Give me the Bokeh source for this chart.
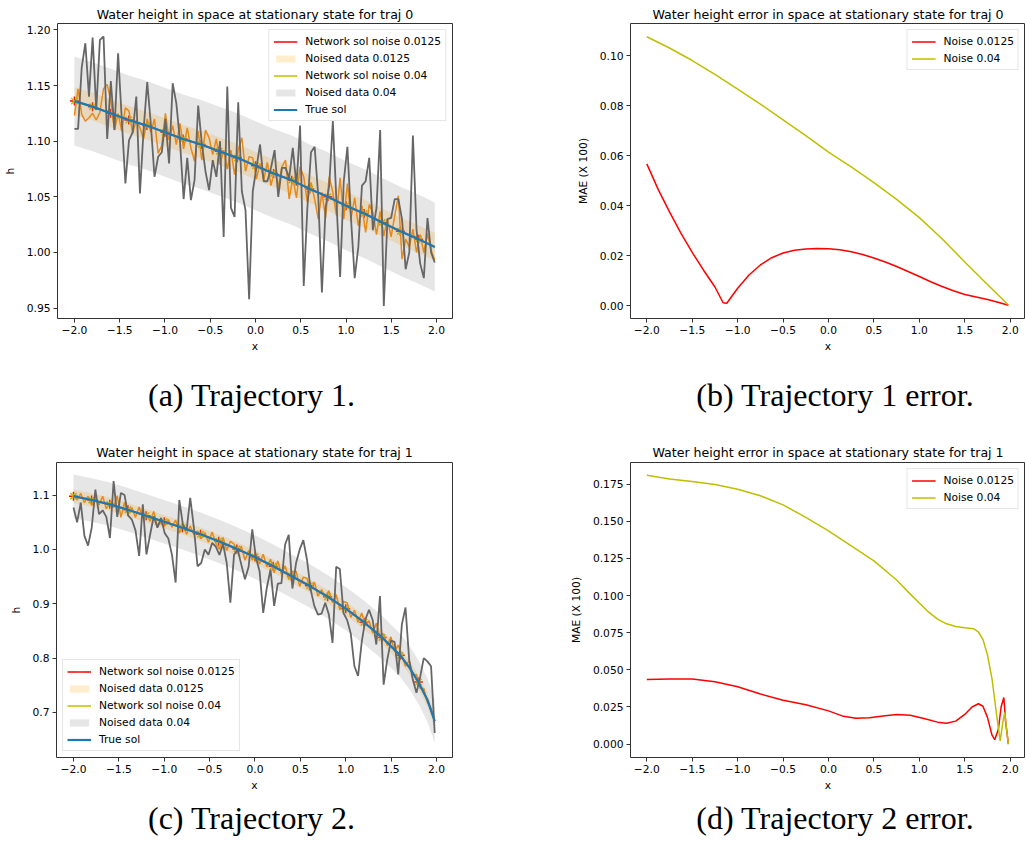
import numpy as np
from bokeh.plotting import figure
from bokeh.models import FixedTicker, Legend, LegendItem, Div, Spacer, Range1d
from bokeh.layouts import row, column
from bokeh.embed import file_html
from bokeh.resources import INLINE

# ---------------- data ----------------
# noisy samples grid (x positions of the noised data)
x_noisy = list(np.linspace(-2.0, 1.98, 100))

# trajectory 0 (panel a)
xt_a = [-2.0, -1.8, -1.6, -1.4, -1.2, -1.0, -0.8, -0.6, -0.4, -0.2, 0.0,
        0.2, 0.4, 0.6, 0.8, 1.0, 1.2, 1.4, 1.6, 1.8, 1.98]
true_a = [1.136, 1.131, 1.125, 1.119, 1.114, 1.108, 1.102, 1.097, 1.091, 1.085, 1.078,
          1.071, 1.065, 1.057, 1.050, 1.042, 1.035, 1.027, 1.019, 1.012, 1.005]
gray_a = [1.111, 1.111, 1.166, 1.188, 1.140, 1.193, 1.128, 1.191, 1.194, 1.102,
          1.154, 1.110, 1.179, 1.120, 1.062, 1.101, 1.108, 1.140, 1.053, 1.110,
          1.153, 1.115, 1.068, 1.086, 1.090, 1.120, 1.080, 1.152, 1.134, 1.100,
          1.048, 1.085, 1.047, 1.065, 1.132, 1.098, 1.073, 1.056, 1.083, 1.068,
          1.100, 1.014, 1.149, 1.040, 1.032, 1.135, 1.055, 1.038, 0.958, 1.055,
          1.076, 1.097, 1.064, 1.064, 1.076, 1.092, 1.050, 1.076, 1.076, 1.067,
          1.094, 1.060, 1.114, 0.970, 1.040, 1.090, 1.095, 1.050, 0.964, 1.040,
          1.060, 1.118, 1.045, 0.978, 1.064, 1.095, 1.030, 0.977, 1.005, 1.060,
          1.064, 1.085, 1.020, 1.040, 1.110, 0.952, 1.030, 1.031, 1.048, 1.048,
          1.030, 0.985, 1.000, 1.105, 1.020, 0.990, 0.977, 1.031, 1.000, 0.991]
orange_a = [1.123, 1.147, 1.124, 1.118, 1.121, 1.125, 1.119, 1.126, 1.147, 1.151,
            1.136, 1.110, 1.125, 1.109, 1.130, 1.127, 1.107, 1.119, 1.112, 1.102,
            1.120, 1.108, 1.120, 1.089, 1.096, 1.125, 1.101, 1.114, 1.097, 1.116,
            1.093, 1.112, 1.094, 1.082, 1.109, 1.083, 1.110, 1.103, 1.088, 1.102,
            1.079, 1.092, 1.075, 1.092, 1.070, 1.092, 1.103, 1.073, 1.086, 1.085,
            1.066, 1.080, 1.065, 1.081, 1.060, 1.074, 1.059, 1.077, 1.083, 1.048,
            1.067, 1.049, 1.077, 1.068, 1.045, 1.063, 1.048, 1.030, 1.054, 1.031,
            1.068, 1.054, 1.033, 1.067, 1.030, 1.062, 1.031, 1.049, 1.024, 1.042,
            1.018, 1.043, 1.036, 1.016, 1.037, 1.015, 1.030, 1.014, 1.033, 1.051,
            0.994, 1.012, 1.005, 1.021, 1.000, 1.016, 1.000, 1.017, 1.002, 0.993]

# trajectory 1 (panel c)
xt_c = [-2.0, -1.8, -1.6, -1.4, -1.2, -1.0, -0.8, -0.6, -0.4, -0.2, 0.0,
        0.2, 0.4, 0.6, 0.8, 1.0, 1.2, 1.4, 1.6, 1.7, 1.8, 1.9, 1.98]
true_c = [1.098, 1.091, 1.083, 1.073, 1.062, 1.051, 1.040, 1.028, 1.015, 1.001, 0.986,
          0.969, 0.951, 0.933, 0.913, 0.891, 0.866, 0.838, 0.805, 0.783, 0.756, 0.723, 0.684]
gray_c = [1.077, 1.050, 1.086, 1.025, 1.007, 1.040, 1.110, 1.065, 1.072, 1.060,
          1.021, 1.126, 1.060, 1.104, 1.100, 1.062, 1.055, 1.035, 0.988, 1.083,
          0.991, 1.027, 1.061, 1.040, 1.058, 1.030, 1.020, 0.990, 0.939, 1.091,
          1.045, 1.035, 1.095, 1.040, 0.969, 0.975, 1.000, 0.990, 1.012, 1.005,
          0.990, 1.010, 0.975, 0.902, 0.990, 1.000, 0.972, 0.945, 0.968, 1.037,
          0.985, 0.960, 0.883, 0.930, 0.963, 0.896, 0.937, 0.938, 1.009, 1.027,
          0.928, 0.975, 1.000, 1.017, 0.981, 0.926, 0.896, 0.880, 0.882, 0.902,
          0.880, 0.828, 0.968, 0.964, 0.883, 0.870, 0.845, 0.785, 0.767, 0.830,
          0.871, 0.889, 0.870, 0.825, 0.914, 0.751, 0.797, 0.832, 0.830, 0.770,
          0.862, 0.893, 0.797, 0.760, 0.736, 0.765, 0.800, 0.794, 0.785, 0.662]
orange_c = [1.102, 1.091, 1.103, 1.086, 1.098, 1.081, 1.093, 1.082, 1.098, 1.075,
            1.087, 1.077, 1.099, 1.059, 1.087, 1.065, 1.077, 1.059, 1.078, 1.058,
            1.065, 1.052, 1.070, 1.043, 1.050, 1.043, 1.055, 1.041, 1.054, 1.030,
            1.044, 1.028, 1.043, 1.027, 1.034, 1.020, 1.031, 1.013, 1.032, 1.012,
            1.000, 1.022, 0.998, 1.015, 1.010, 0.993, 1.006, 0.980, 0.998, 0.981,
            0.992, 0.973, 0.991, 0.968, 0.982, 0.957, 0.979, 0.954, 0.970, 0.945,
            0.959, 0.960, 0.932, 0.949, 0.947, 0.924, 0.940, 0.914, 0.926, 0.912,
            0.924, 0.902, 0.917, 0.889, 0.904, 0.902, 0.875, 0.888, 0.866, 0.883,
            0.860, 0.869, 0.846, 0.864, 0.839, 0.844, 0.823, 0.839, 0.812, 0.824,
            0.806, 0.785, 0.795, 0.768, 0.770, 0.744, 0.744, 0.718, 0.708, 0.680]

# network-solution marker positions
x_marks = [-2.0, -1.8, -1.6, -1.4, -1.2, -1.0, -0.8, -0.6, -0.4, -0.2,
           0.0, 0.2, 0.4, 0.6, 0.8, 1.0, 1.2, 1.4, 1.6, 1.8]

noise_small = 0.0125
noise_big = 0.04

# error panel b (traj 0)
xe_b_big = [-2.0, -1.75, -1.5, -1.25, -1.0, -0.75, -0.5, -0.25, 0.0, 0.25, 0.5,
            0.75, 1.0, 1.25, 1.5, 1.75, 1.98]
err_b_big = [0.1075, 0.1030, 0.0980, 0.0925, 0.0866, 0.0806, 0.0743, 0.0680, 0.0614,
             0.0555, 0.0492, 0.0425, 0.0352, 0.0268, 0.0175, 0.0085, 0.0003]
xe_b_small = [-2.0, -1.875, -1.75, -1.625, -1.5, -1.375, -1.25, -1.16, -1.12, -1.0,
              -0.875, -0.75, -0.625, -0.5, -0.375, -0.25, -0.125, 0.0, 0.125, 0.25,
              0.375, 0.5, 0.625, 0.75, 0.875, 1.0, 1.125, 1.25, 1.375, 1.5, 1.625,
              1.75, 1.875, 1.98]
err_b_small = [0.0567, 0.0465, 0.0375, 0.0290, 0.0213, 0.0142, 0.0075, 0.0012, 0.0010,
               0.0070, 0.0123, 0.0163, 0.0192, 0.0211, 0.0222, 0.0227, 0.0229, 0.0228,
               0.0224, 0.0216, 0.0205, 0.0191, 0.0175, 0.0157, 0.0137, 0.0117, 0.0096,
               0.0077, 0.0060, 0.0045, 0.0035, 0.0025, 0.0013, 0.0002]

# error panel d (traj 1)
xe_d_big = [-2.0, -1.75, -1.5, -1.25, -1.0, -0.75, -0.5, -0.25, 0.0, 0.25, 0.5, 0.75,
            0.9, 1.0, 1.1, 1.2, 1.3, 1.4, 1.5, 1.6, 1.65, 1.7, 1.75, 1.8, 1.85, 1.89,
            1.92, 1.94, 1.96, 1.98]
err_d_big = [0.1810, 0.1785, 0.1768, 0.1748, 0.1716, 0.1672, 0.1611, 0.1526, 0.1436,
             0.1335, 0.1234, 0.1105, 0.1010, 0.0950, 0.0890, 0.0842, 0.0810, 0.0792,
             0.0783, 0.0776, 0.0755, 0.0705, 0.0600, 0.0440, 0.0200, 0.0022, 0.0150,
             0.0213, 0.0100, 0.0000]
xe_d_small = [-2.0, -1.75, -1.5, -1.25, -1.0, -0.75, -0.5, -0.25, 0.0, 0.15, 0.3, 0.45,
              0.6, 0.75, 0.9, 1.05, 1.2, 1.3, 1.4, 1.5, 1.58, 1.65, 1.7, 1.75, 1.8,
              1.83, 1.87, 1.9, 1.93, 1.95, 1.98]
err_d_small = [0.0435, 0.0438, 0.0438, 0.0420, 0.0386, 0.0337, 0.0296, 0.0265, 0.0224,
               0.0190, 0.0175, 0.0178, 0.0190, 0.0200, 0.0195, 0.0172, 0.0148, 0.0140,
               0.0155, 0.0200, 0.0250, 0.0272, 0.0255, 0.0180, 0.0060, 0.0030, 0.0100,
               0.0250, 0.0314, 0.0150, 0.0000]

# ticks
x_ticks = [-2.0, -1.5, -1.0, -0.5, 0.0, 0.5, 1.0, 1.5, 2.0]
x_tick_labels = ["\u22122.0", "\u22121.5", "\u22121.0", "\u22120.5", "0.0", "0.5", "1.0", "1.5", "2.0"]
ya_ticks = [0.95, 1.00, 1.05, 1.10, 1.15, 1.20]
ya_labels = ["0.95", "1.00", "1.05", "1.10", "1.15", "1.20"]
yb_ticks = [0.00, 0.02, 0.04, 0.06, 0.08, 0.10]
yb_labels = ["0.00", "0.02", "0.04", "0.06", "0.08", "0.10"]
yc_ticks = [0.7, 0.8, 0.9, 1.0, 1.1]
yc_labels = ["0.7", "0.8", "0.9", "1.0", "1.1"]
yd_ticks = [0.0, 0.025, 0.05, 0.075, 0.1, 0.125, 0.15, 0.175]
yd_labels = ["0.000", "0.025", "0.050", "0.075", "0.100", "0.125", "0.150", "0.175"]

# ---------------- styling ----------------
FONT = "DejaVu Sans"
FS = "10.7px"
C_TRUE = "#1f77b4"
C_RED = "#ff0000"
C_YEL = "#bfbf00"
C_ORANGE = "#ff8c00"
C_GRAY = "#666666"


def make_fig(width, height, mbl, mbr, mbt, mbb, xr, yr, title, standoff):
    p = figure(width=width, height=height, output_backend="svg", toolbar_location=None,
               x_range=Range1d(*xr), y_range=Range1d(*yr),
               min_border_left=mbl, min_border_right=mbr,
               min_border_top=mbt, min_border_bottom=mbb,
               background_fill_color="white", border_fill_color="white")
    p.title.text = title
    p.title.align = "center"
    p.title.text_font = FONT
    p.title.text_font_size = "12.6px"
    p.title.text_font_style = "normal"
    p.title.text_color = "black"
    p.title.standoff = standoff
    p.grid.visible = False
    p.outline_line_color = "#333333"
    p.outline_line_width = 1
    for ax in p.axis:
        ax.major_tick_in = 0
        ax.major_tick_out = 4
        ax.minor_tick_line_color = None
        ax.axis_line_color = None
        ax.major_tick_line_color = "#333333"
        ax.major_label_text_font = FONT
        ax.major_label_text_font_size = FS
        ax.major_label_text_color = "black"
        ax.axis_label_text_font = FONT
        ax.axis_label_text_font_size = FS
        ax.axis_label_text_font_style = "normal"
        ax.axis_label_text_color = "black"
        ax.major_label_standoff = 3
    p.xaxis.axis_label_standoff = 3
    p.yaxis.axis_label_standoff = 7
    return p


def set_ticks(p, xt, xl, yt, yl):
    p.xaxis.ticker = FixedTicker(ticks=xt)
    p.xaxis.major_label_overrides = dict(zip(xt, xl))
    p.yaxis.ticker = FixedTicker(ticks=yt)
    p.yaxis.major_label_overrides = dict(zip(yt, yl))


def style_legend(leg, location):
    leg.location = location
    leg.label_text_font = FONT
    leg.label_text_font_size = FS
    leg.label_text_color = "black"
    leg.glyph_width = 24
    leg.glyph_height = 9
    leg.label_height = 14
    leg.label_standoff = 8
    leg.spacing = 3
    leg.padding = 4
    leg.margin = 6
    leg.border_line_color = "#cccccc"
    leg.border_line_width = 1
    leg.background_fill_color = "white"
    leg.background_fill_alpha = 0.8


def traj_fig(width, height, mbl, mbr, mbt, mbb, xr, yr, title, standoff,
             xt, yt, orange, gray, yticks, ylabels, legend_loc):
    p = make_fig(width, height, mbl, mbr, mbt, mbb, xr, yr, title, standoff)
    set_ticks(p, x_ticks, x_tick_labels, yticks, ylabels)
    p.xaxis.axis_label = "x"
    p.yaxis.axis_label = "h"
    t = np.array(yt)
    lookup = dict(zip(xt, yt))
    mk_y = [lookup[v] for v in x_marks]
    # network sol noise 0.0125
    r_red = p.line(xt, yt, line_color=C_RED, line_width=1.5)
    p.scatter(x_marks, mk_y, marker="cross", size=9, line_color=C_RED, line_width=1.5)
    # noised data 0.0125
    r_ob = p.varea(x=xt, y1=list(t - noise_small), y2=list(t + noise_small),
                   fill_color="#ffa500", fill_alpha=0.2)
    p.line(x_noisy, orange, line_color=C_ORANGE, line_width=1.5)
    # network sol noise 0.04
    r_yel = p.line(xt, yt, line_color=C_YEL, line_width=1.5)
    p.scatter(x_marks, mk_y, marker="x", size=9, line_color=C_YEL, line_width=1.5)
    # noised data 0.04
    r_gb = p.varea(x=xt, y1=list(t - noise_big), y2=list(t + noise_big),
                   fill_color="#808080", fill_alpha=0.2)
    p.line(x_noisy, gray, line_color=C_GRAY, line_width=1.8)
    # true sol
    r_true = p.line(xt, yt, line_color=C_TRUE, line_width=2.2)
    leg = Legend(items=[
        LegendItem(label="Network sol noise 0.0125", renderers=[r_red]),
        LegendItem(label="Noised data 0.0125", renderers=[r_ob]),
        LegendItem(label="Network sol noise 0.04", renderers=[r_yel]),
        LegendItem(label="Noised data 0.04", renderers=[r_gb]),
        LegendItem(label="True sol", renderers=[r_true]),
    ])
    style_legend(leg, legend_loc)
    p.add_layout(leg)
    return p


def err_fig(width, height, mbl, mbr, mbt, mbb, xr, yr, title, standoff,
            xs, es, xb, eb, yticks, ylabels):
    p = make_fig(width, height, mbl, mbr, mbt, mbb, xr, yr, title, standoff)
    set_ticks(p, x_ticks, x_tick_labels, yticks, ylabels)
    p.xaxis.axis_label = "x"
    p.yaxis.axis_label = "MAE (X 100)"
    r1 = p.line(xs, es, line_color=C_RED, line_width=1.5)
    r2 = p.line(xb, eb, line_color=C_YEL, line_width=1.5)
    leg = Legend(items=[LegendItem(label="Noise 0.0125", renderers=[r1]),
                        LegendItem(label="Noise 0.04", renderers=[r2])])
    style_legend(leg, "top_right")
    p.add_layout(leg)
    return p


fa = traj_fig(560, 360, 56, 108, 23, 42, (-2.187, 2.176), (0.9407, 1.2057),
              "Water height in space at stationary state for traj 0", 3,
              xt_a, true_a, orange_a, gray_a, ya_ticks, ya_labels, "top_right")
fb = err_fig(465, 360, 70, 0, 23, 42, (-2.1795, 2.1685), (-0.0051, 0.1128),
             "Water height error in space at stationary state for traj 0", 3,
             xe_b_small, err_b_small, xe_b_big, err_b_big, yb_ticks, yb_labels)
fc = traj_fig(560, 365, 56, 108, 32, 38, (-2.187, 2.176), (0.617, 1.160),
              "Water height in space at stationary state for traj 1", 5,
              xt_c, true_c, orange_c, gray_c, yc_ticks, yc_labels, "bottom_left")
fd = err_fig(465, 365, 70, 0, 32, 38, (-2.1795, 2.1685), (-0.009, 0.1896),
             "Water height error in space at stationary state for traj 1", 5,
             xe_d_small, err_d_small, xe_d_big, err_d_big, yd_ticks, yd_labels)


def caption(text, width, height):
    html = ('<div style="display:block;width:%dpx;font-family:\'Liberation Serif\',serif;'
            'font-size:32px;line-height:%dpx;text-align:center;color:black;'
            'white-space:nowrap;">%s</div>' % (width, height, text))
    return Div(text=html, width=width, height=height, margin=0,
               styles={"text-align": "center", "width": "%dpx" % width})


cap1 = row(caption("(a) Trajectory 1.", 503, 70), Spacer(width=142, height=70, margin=0),
           caption("(b) Trajectory 1 error.", 380, 70))
cap2 = row(caption("(c) Trajectory 2.", 503, 46), Spacer(width=142, height=46, margin=0),
           caption("(d) Trajectory 2 error.", 380, 46))

layout = column(row(fa, fb), cap1, row(fc, fd), cap2)

open("out.html", "w").write(file_html(layout, INLINE))
